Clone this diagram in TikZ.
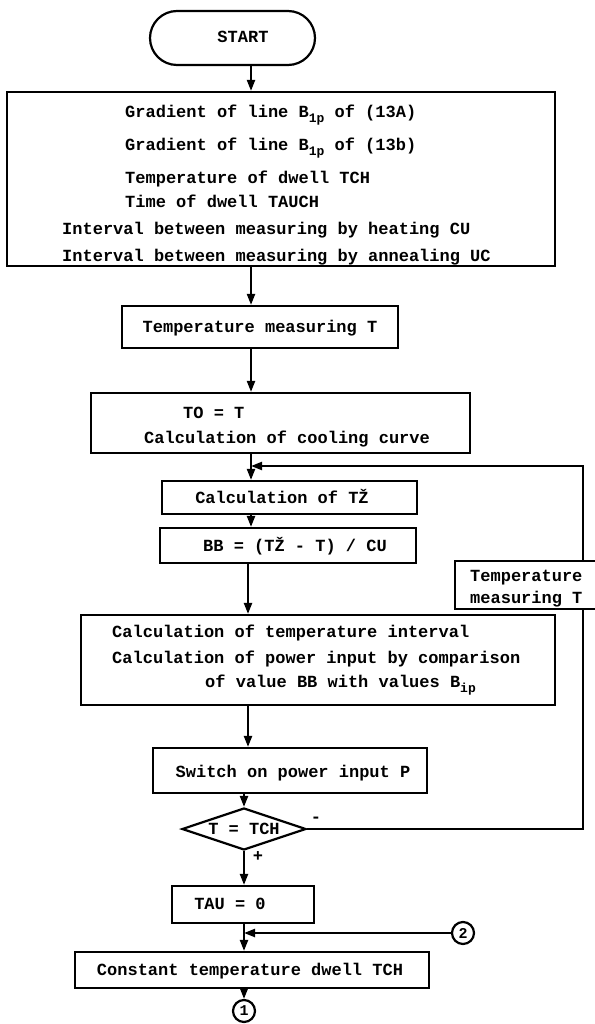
\documentclass[tikz,border=0pt]{standalone}
\usepackage{fontspec}
\setmainfont{Liberation Mono}
\usetikzlibrary{arrows.meta,shapes.geometric}
\newcommand\sbs[1]{\raisebox{-5pt}{\fontsize{13}{13}\selectfont #1}}
\begin{document}
\begin{tikzpicture}[x=1pt,y=-1pt,
  txt/.style={font=\fontsize{17}{22}\selectfont\bfseries,inner sep=0pt},
  lbl/.style={txt,anchor=base west},
  ctr/.style={txt,anchor=base},
  box/.style={draw,line width=2.2pt,rectangle,inner sep=0pt},
  ln/.style={line width=2.2pt},
  arr/.style={line width=2.2pt,-{Triangle[length=11pt,width=8pt]}},
  conn/.style={draw,circle,line width=2.2pt,minimum size=22pt,inner sep=0pt,font=\fontsize{15}{15}\selectfont\bfseries},
]
\useasboundingbox (0,0) rectangle (594,1024);
% x positions of main line
\coordinate (xa) at (251,0);
\coordinate (xm) at (248,0);
\coordinate (xr) at (583,0);
% boxes
\node[box,rounded corners=27pt,minimum width=165pt,minimum height=54pt] (start) at (232.5,38) {};
\node[ctr] (starttxt) at (243,43) {START};
\node[box,minimum width=548pt,minimum height=174pt] (big) at (281,179) {};
\node[lbl] (g1) at (125,118) {Gradient of line B\sbs{1p} of (13A)};
\node[lbl] (g2) at (125,151) {Gradient of line B\sbs{1p} of (13b)};
\node[lbl] (g3) at (125,184) {Temperature of dwell TCH};
\node[lbl] (g4) at (125,208) {Time of dwell TAUCH};
\node[lbl] (g5) at (62,234) {Interval between measuring by heating CU};
\node[lbl] (g6) at (62,261) {Interval between measuring by annealing UC};
\node[box,minimum width=276pt,minimum height=42pt] (temp) at (260,327) {};
\node[ctr] (temptxt) at (260,332) {Temperature measuring T};
\node[box,minimum width=379pt,minimum height=60pt] (to) at (280.5,423) {};
\node[lbl] (to1) at (183,418) {TO = T};
\node[lbl] (to2) at (144,443) {Calculation of cooling curve};
\node[box,minimum width=255pt,minimum height=33pt] (tz) at (289.5,497.5) {};
\node[ctr] (tztxt) at (282,503) {Calculation of TŽ};
\node[box,minimum width=256pt,minimum height=35pt] (bb) at (288,545.5) {};
\node[ctr] (bbtxt) at (295,551) {BB = (TŽ - T) / CU};
\node[box,minimum width=146pt,minimum height=48pt] (rt) at (528,585) {};
\node[lbl] (rt1) at (470,581) {Temperature};
\node[lbl] (rt2) at (470,603) {measuring T};
\node[box,minimum width=474pt,minimum height=90pt] (calc) at (318,660) {};
\node[lbl] (c1t) at (112,637) {Calculation of temperature interval};
\node[lbl] (c2t) at (112,663) {Calculation of power input by comparison};
\node[lbl] (c3t) at (205,687) {of value BB with values B\sbs{ip}};
\node[box,minimum width=274pt,minimum height=45pt] (sw) at (290,770.5) {};
\node[ctr] (swtxt) at (293,777) {Switch on power input P};
\node[draw,diamond,line width=2.2pt,aspect=2.9,minimum width=124pt,minimum height=42pt,inner sep=0pt] (dia) at (244,829) {};
\node[ctr] (diatxt) at (244,834) {T = TCH};
\node[box,minimum width=142pt,minimum height=37pt] (tau) at (243,904.5) {};
\node[ctr] (tautxt) at (230,909) {TAU = 0};
\node[box,minimum width=354pt,minimum height=36pt] (con) at (252,970) {};
\node[ctr] (contxt) at (250,975) {Constant temperature dwell  TCH};
\node[conn] (k1) at (244,1011) {1};
\node[conn] (k2) at (463,933) {2};
\node[ctr] (minus) at (316,822) {-};
\node[ctr] (plus) at (258,861) {+};
% junctions
\coordinate (j1) at (251,466);
\coordinate (j2) at (244,933);
% connectors
\draw[arr] (start.south -| xa) -- (big.north -| xa);
\draw[arr] (big.south -| xa) -- (temp.north -| xa);
\draw[arr] (temp.south -| xa) -- (to.north -| xa);
\draw[arr] (to.south -| xa) -- (tz.north -| xa);
\draw[arr] (tz.south -| xa) -- (bb.north -| xa);
\draw[arr] (bb.south -| xm) -- (calc.north -| xm);
\draw[arr] (calc.south -| xm) -- (sw.north -| xm);
\draw[arr] (sw.south -| dia.north) -- (dia.north);
\draw[arr] (dia.south) -- (tau.north -| dia.south);
\draw[arr] (tau.south -| j2) -- (con.north -| j2);
\draw[arr] (con.south -| k1.north) -- (k1.north);
\draw[ln] (dia.east) -- (dia.east -| xr) -- (rt.south -| xr);
\draw[arr] (rt.north -| xr) -- (xr |- j1) -- (j1);
\draw[arr] (k2.west) -- (j2);
\end{tikzpicture}
\end{document}
